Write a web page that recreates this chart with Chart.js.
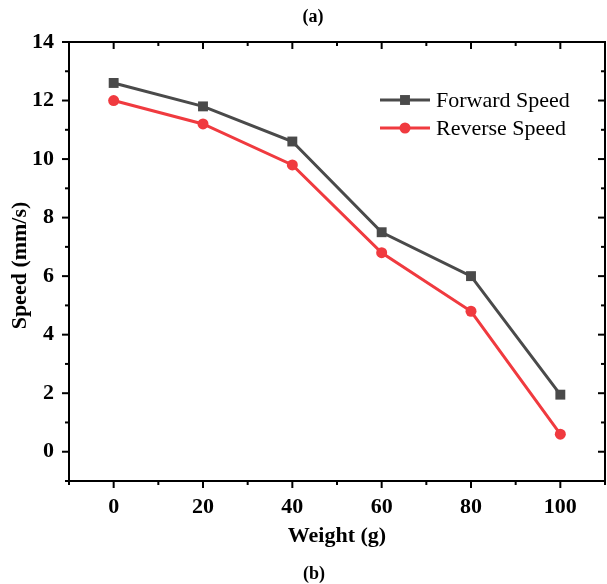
<!DOCTYPE html>
<html>
<head>
<meta charset="utf-8">
<script src="https://cdn.jsdelivr.net/npm/chart.js@4"></script>
<style>
  html, body { margin: 0; padding: 0; background: #fff; overflow: hidden; }
  canvas { display: block; }
</style>
</head>
<body>
<canvas id="chart" width="607" height="584"></canvas>
<script>
// data
const weights = [0, 20, 40, 60, 80, 100];
const forwardSpeed = [12.6, 11.8, 10.6, 7.5, 6.0, 1.95];
const reverseSpeed = [12.0, 11.2, 9.8, 6.8, 4.8, 0.6];
const xTicks = [0, 20, 40, 60, 80, 100];
const xMinor = [-10, 10, 30, 50, 70, 90, 110];
const yTicks = [0, 2, 4, 6, 8, 10, 12, 14];
const yMinor = [-1, 1, 3, 5, 7, 9, 11, 13];

const SERIF = '"Liberation Serif", "Times New Roman", serif';
const GRAY = '#4a4a4a';
const RED = '#f03a3f';

// frame, tick marks, legend and text labels
const framePlugin = {
    id: 'frame',
    afterDraw(chart) {
        const { ctx, chartArea: a, scales: { x, y } } = chart;
        ctx.save();
        ctx.strokeStyle = '#000';
        ctx.lineWidth = 2;
        ctx.strokeRect(a.left, a.top, a.right - a.left, a.bottom - a.top);

        const tick = (x1, y1, x2, y2) => {
            ctx.beginPath(); ctx.moveTo(x1, y1); ctx.lineTo(x2, y2); ctx.stroke();
        };
        xTicks.forEach(v => {
            const px = x.getPixelForValue(v);
            tick(px, a.bottom, px, a.bottom + 7);
            tick(px, a.top, px, a.top + 7);
        });
        xMinor.forEach(v => {
            const px = x.getPixelForValue(v);
            tick(px, a.bottom, px, a.bottom + 4);
            tick(px, a.top, px, a.top + 4);
        });
        yTicks.forEach(v => {
            const py = y.getPixelForValue(v);
            tick(a.left - 7, py, a.left, py);
            tick(a.right - 7, py, a.right, py);
        });
        yMinor.forEach(v => {
            const py = y.getPixelForValue(v);
            tick(a.left - 4, py, a.left, py);
            tick(a.right - 4, py, a.right, py);
        });

        // legend
        const items = [
            { label: 'Forward Speed', color: GRAY, style: 'rect', r: 7, y: 100 },
            { label: 'Reverse Speed', color: RED, style: 'circle', r: 5.5, y: 128 }
        ];
        items.forEach(it => {
            ctx.strokeStyle = it.color;
            ctx.lineWidth = 3;
            tick(380, it.y, 430, it.y);
            ctx.fillStyle = it.color;
            Chart.helpers.drawPoint(ctx, { pointStyle: it.style, radius: it.r, borderWidth: 0 }, 405, it.y);
            ctx.fillStyle = '#000';
            ctx.font = '22px ' + SERIF;
            ctx.textAlign = 'left';
            ctx.textBaseline = 'middle';
            ctx.fillText(it.label, 436, it.y + 1);
        });

        // titles
        ctx.fillStyle = '#000';
        ctx.textAlign = 'center';
        ctx.textBaseline = 'middle';
        ctx.font = 'bold 18px ' + SERIF;
        ctx.fillText('(a)', 313, 17);
        ctx.fillText('(b)', 314, 574);
        ctx.font = 'bold 22px ' + SERIF;
        ctx.fillText('Weight (g)', (a.left + a.right) / 2, 536);
        ctx.save();
        ctx.translate(20, (a.top + a.bottom) / 2 + 4);
        ctx.rotate(-Math.PI / 2);
        ctx.fillText('Speed (mm/s)', 0, 0);
        ctx.restore();
        ctx.restore();
    }
};

new Chart(document.getElementById('chart'), {
    type: 'line',
    data: {
        datasets: [
            {
                label: 'Forward Speed',
                data: weights.map((w, i) => ({ x: w, y: forwardSpeed[i] })),
                borderColor: GRAY,
                backgroundColor: GRAY,
                borderWidth: 3,
                pointStyle: 'rect',
                pointRadius: 7,
                pointBorderWidth: 0,
                tension: 0
            },
            {
                label: 'Reverse Speed',
                data: weights.map((w, i) => ({ x: w, y: reverseSpeed[i] })),
                borderColor: RED,
                backgroundColor: RED,
                borderWidth: 3,
                pointStyle: 'circle',
                pointRadius: 5.5,
                pointBorderWidth: 0,
                tension: 0
            }
        ]
    },
    options: {
        responsive: false,
        animation: false,
        layout: { autoPadding: false, padding: { top: 42, right: 2, left: 0, bottom: 0 } },
        plugins: { legend: { display: false }, title: { display: false }, tooltip: { enabled: false } },
        scales: {
            x: {
                type: 'linear',
                min: -10, max: 110,
                grid: { display: false, drawTicks: false },
                border: { display: false },
                afterBuildTicks: s => { s.ticks = xTicks.map(v => ({ value: v })); },
                afterFit: s => { s.height = 103; s.paddingLeft = 0; s.paddingRight = 0; },
                ticks: {
                    padding: 13,
                    color: '#000',
                    font: { family: SERIF, size: 22, weight: 'bold' }
                }
            },
            y: {
                min: -1, max: 14,
                grid: { display: false, drawTicks: false },
                border: { display: false },
                afterBuildTicks: s => { s.ticks = yTicks.map(v => ({ value: v })); },
                afterFit: s => { s.width = 69; s.paddingTop = 0; s.paddingBottom = 0; },
                ticks: {
                    padding: 15,
                    color: '#000',
                    font: { family: SERIF, size: 22, weight: 'bold' }
                }
            }
        }
    },
    plugins: [framePlugin]
});
</script>
</body>
</html>
